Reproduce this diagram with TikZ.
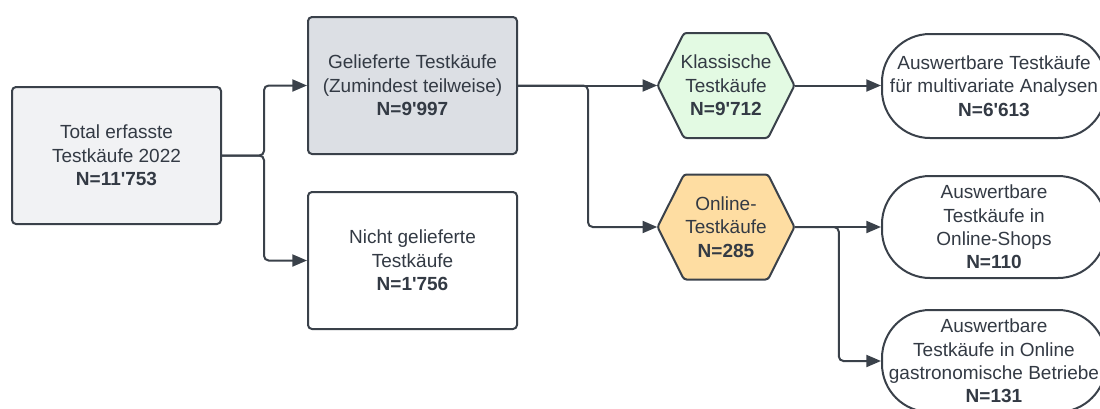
\documentclass[tikz,border=0pt]{standalone}
\usepackage{fontspec}
\setmainfont{Liberation Sans}[Ligatures=TeXOff]
\usetikzlibrary{arrows.meta}

\definecolor{linegray}{HTML}{3A414A}
\definecolor{txtgray}{HTML}{333A44}
\definecolor{totalfill}{HTML}{F1F2F4}
\definecolor{gelfill}{HTML}{DCDFE4}
\definecolor{klassfill}{HTML}{E3FAE3}
\definecolor{onlinefill}{HTML}{FEDDA2}

\tikzset{
  txt/.style={align=center, text=txtgray, font=\fontsize{14.25}{17.6}\selectfont},
  box/.style={txt, draw=linegray, line width=1.5pt, rounded corners=3pt,
    minimum width=156.75pt, minimum height=102.75pt},
  hexline/.style={draw=linegray, line width=1.5pt, rounded corners=2pt},
  hextext/.style={txt, minimum width=102.75pt, minimum height=78.75pt, inner sep=0pt},
  stadium/.style={txt, draw=linegray, fill=white, line width=1.5pt, rounded corners=36pt,
    minimum width=168pt, inner sep=0pt},
  conn/.style={draw=linegray, line width=1.5pt, rounded corners=3.5pt,
    -{Triangle[length=11pt,width=9pt]}},
}

\begin{document}
\begin{tikzpicture}[x=0.75pt,y=-0.75pt]

\useasboundingbox (0,0) rectangle (1100,408);
\clip (0,0) rectangle (1100,408);

% boxes on the left
\node[box, fill=totalfill] (total) at (116.5, 155.5) {Total erfasste\\Testkäufe 2022\\\textbf{N=11'753}};
\node[box, fill=gelfill] (gel) at (412.5, 85.5) {Gelieferte Testkäufe\\(Zumindest teilweise)\\\textbf{N=9'997}};
\node[box, fill=white] (nicht) at (412.5, 260.5) {Nicht gelieferte\\Testkäufe\\\textbf{N=1'756}};

% hexagons
\draw[hexline, fill=klassfill] (726 - 68.5, 85.5) -- (726 - 42, 85.5 - 52.5) -- (726 + 42, 85.5 - 52.5) -- (726 + 68.5, 85.5) -- (726 + 42, 85.5 + 52.5) -- (726 - 42, 85.5 + 52.5) -- cycle;
\node[hextext] (klass) at (726, 85.5) {Klassische\\Testkäufe\\\textbf{N=9'712}};

\draw[hexline, fill=onlinefill] (726 - 68.5, 227) -- (726 - 42, 227 - 52.5) -- (726 + 42, 227 - 52.5) -- (726 + 68.5, 227) -- (726 + 42, 227 + 52.5) -- (726 - 42, 227 + 52.5) -- cycle;
\node[hextext] (online) at (726, 227) {Online-\\Testkäufe\\\textbf{N=285}};

% stadiums on the right
\node[stadium, minimum height=78pt] (multi) at (994, 86) {Auswertbare Testkäufe\\für multivariate Analysen\\\textbf{N=6'613}};
\node[stadium, minimum height=76.5pt] (shops) at (994, 227) {Auswertbare\\Testkäufe in\\Online-Shops\\\textbf{N=110}};
\node[stadium, minimum height=76.5pt] (gastro) at (994, 361) {Auswertbare\\Testkäufe in Online\\gastronomische Betriebe\\\textbf{N=131}};

% connectors
\draw[conn] (total.east) -- ++(42,0) |- (gel.west);
\draw[conn] (total.east) -- ++(42,0) |- (nicht.west);
\draw[conn] (gel.east) -- (klass.west);
\draw[conn] (gel.east) -- ++(70,0) |- (online.west);
\draw[conn] (klass.east) -- (klass.east -| multi.west);
\draw[conn] (online.east) -- (shops.west);
\draw[conn] (online.east) -- ++(44,0) |- (gastro.west);

\end{tikzpicture}
\end{document}
